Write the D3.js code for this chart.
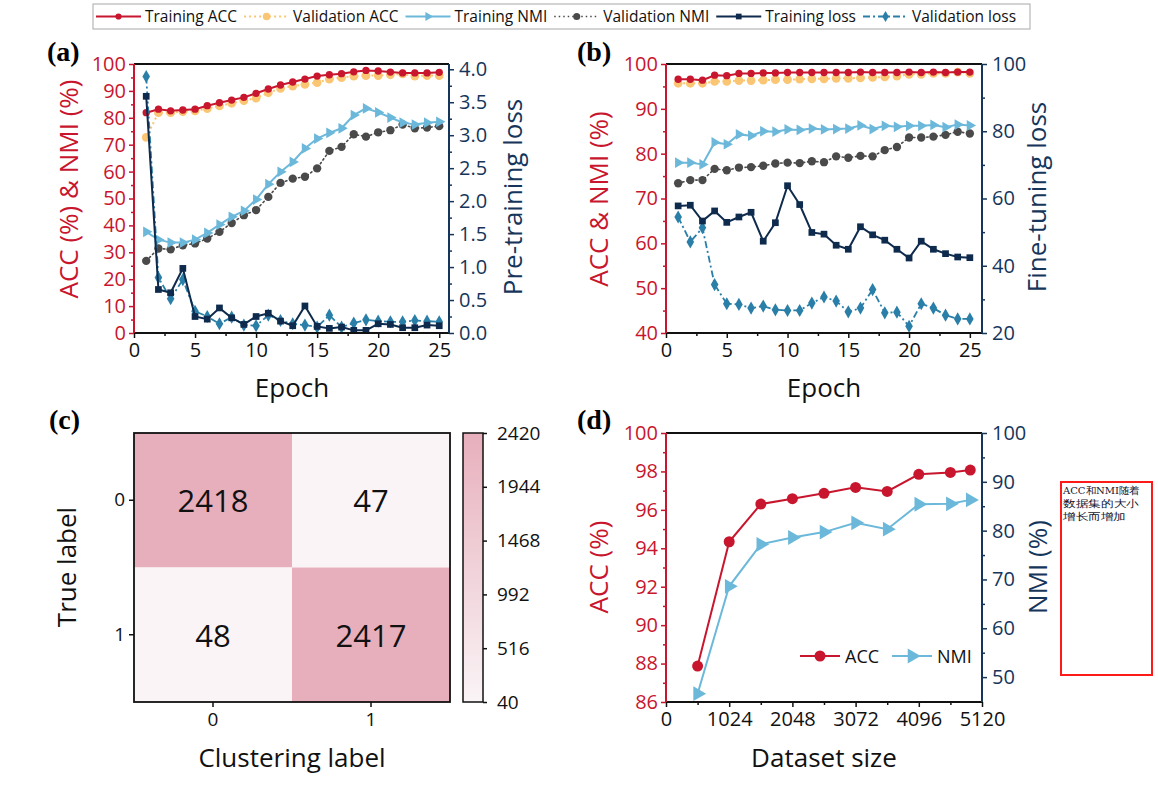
<!DOCTYPE html>
<html>
<head>
<meta charset="utf-8">
<script src="https://cdn.jsdelivr.net/npm/d3@7/dist/d3.min.js"></script>
<style>
  body { margin: 0; background: #fff; }
  svg { display: block; }
</style>
</head>
<body>
<div id="root"></div>
<script>
// ---- data ----
const epochs = d3.range(1, 26)

// (a) pre-training
const preAccTrain = [81.9, 83.2, 82.6, 82.9, 83.2, 84.5, 85.6, 86.6, 87.6, 89.1, 90.7, 92.2, 93.3, 94.4, 95.5, 96.0, 96.4, 97.1, 97.6, 97.4, 97.0, 96.7, 96.7, 96.7, 96.9]
const preAccVal = [72.7, 81.9, 81.9, 82.3, 82.6, 83.4, 84.4, 85.4, 86.4, 87.3, 89.3, 90.9, 91.8, 92.4, 93.1, 94.4, 94.9, 95.5, 95.7, 95.7, 96.0, 96.3, 95.5, 95.7, 95.7]
const preNmiTrain = [37.6, 34.7, 33.6, 33.6, 34.7, 37.2, 40.3, 43.2, 45.4, 49.6, 55.3, 59.9, 63.6, 68.6, 72.3, 74.4, 76.1, 81.0, 83.5, 82.0, 80.1, 78.2, 77.5, 78.2, 78.5]
const preNmiVal = [26.8, 31.4, 31.1, 32.6, 33.3, 35.1, 37.6, 40.9, 43.8, 45.7, 50.6, 55.8, 57.4, 58.1, 61.2, 67.7, 69.2, 73.9, 73.0, 74.6, 75.4, 77.5, 76.1, 76.4, 76.9]
const preLossTrain = [3.59, 0.66, 0.61, 0.98, 0.25, 0.21, 0.38, 0.23, 0.13, 0.25, 0.30, 0.18, 0.11, 0.41, 0.10, 0.07, 0.09, 0.04, 0.04, 0.14, 0.13, 0.08, 0.08, 0.12, 0.11]
const preLossVal = [3.89, 0.84, 0.52, 0.81, 0.33, 0.25, 0.14, 0.24, 0.12, 0.11, 0.27, 0.19, 0.14, 0.12, 0.09, 0.27, 0.09, 0.15, 0.20, 0.18, 0.17, 0.17, 0.19, 0.18, 0.17]

// (b) fine-tuning
const ftAccTrain = [96.6, 96.6, 96.4, 97.5, 97.4, 97.9, 97.9, 98.0, 98.0, 98.1, 98.1, 98.1, 98.1, 98.1, 98.1, 98.2, 98.1, 98.1, 98.1, 98.2, 98.1, 98.2, 98.1, 98.2, 98.2]
const ftAccVal = [95.7, 95.7, 95.7, 96.1, 96.1, 96.3, 96.3, 96.4, 96.5, 96.5, 96.6, 96.7, 96.7, 96.8, 96.8, 96.9, 97.0, 97.1, 97.3, 97.7, 97.7, 97.9, 97.9, 98.2, 97.9]
const ftNmiTrain = [78.0, 78.0, 77.6, 82.5, 82.1, 84.3, 84.0, 85.0, 84.9, 85.4, 85.3, 85.6, 85.4, 85.5, 85.6, 86.3, 85.5, 86.2, 86.0, 86.2, 86.2, 86.4, 85.9, 86.5, 86.3]
const ftNmiVal = [73.4, 74.1, 74.1, 76.6, 76.3, 76.9, 77.0, 77.3, 77.8, 78.0, 77.9, 78.3, 78.1, 79.4, 79.1, 79.5, 79.4, 80.8, 81.5, 83.6, 83.6, 83.8, 84.2, 84.9, 84.5]
const ftLossTrain = [57.8, 58.0, 53.3, 56.3, 52.9, 54.5, 55.9, 47.3, 52.8, 63.8, 58.2, 49.9, 49.4, 46.1, 44.9, 51.6, 49.2, 47.6, 44.9, 42.3, 47.3, 44.9, 43.6, 42.6, 42.4]
const ftLossVal = [54.5, 47.1, 51.3, 34.4, 28.7, 28.5, 27.4, 28.0, 26.9, 26.7, 26.7, 28.9, 30.7, 29.5, 26.3, 27.4, 32.9, 26.0, 26.2, 22.0, 28.7, 27.4, 25.3, 24.2, 24.2]

// (c) confusion matrix
const cmLabels = ['0', '1']
const cmValues = [[2418, 47], [48, 2417]]
const cbTicks = [40, 516, 992, 1468, 1944, 2420]

// (d) dataset size
const dataSizes = [512, 1024, 1536, 2048, 2560, 3072, 3584, 4096, 4608, 4930]
const sizeAcc = [87.87, 94.34, 96.30, 96.58, 96.86, 97.17, 96.96, 97.85, 97.95, 98.07]
const sizeNmi = [46.6, 68.6, 77.2, 78.6, 79.7, 81.6, 80.3, 85.4, 85.5, 86.3]

const legendNames = ['Training ACC', 'Validation ACC', 'Training NMI', 'Validation NMI', 'Training loss', 'Validation loss']
const note = ['ACC和NMI随着', '数据集的大小', '增长而增加']

// ---- style ----
const FONT = '"Open Sans", sans-serif'
const RED = '#c8162e'
const NAVY = '#15365a'
const fmtInt = d3.format('d')

const styles = [
  { color: RED, sym: 'circle', size: 42, width: 2 },
  { color: '#fbc673', sym: 'circle', size: 60, width: 2, dash: '2,3' },
  { color: '#6cb8da', sym: 'triangle', size: 50, width: 2 },
  { color: '#4a4a4a', sym: 'circle', size: 55, width: 1.6, dash: '1.5,3' },
  { color: '#0e2a4c', sym: 'square', size: 45, width: 2 },
  { color: '#2a7fa8', sym: 'diamond', size: 50, width: 1.8, dash: '7,3,2,3' }
]
const symTypes = { circle: d3.symbolCircle, square: d3.symbolSquare, triangle: d3.symbolTriangle, diamond: d3.symbolDiamond }

const svg = d3.select('#root').append('svg')
svg.attr('width', 1158).attr('height', 788)

function axis(gen, tx, ty, color, size) {
  const g = svg.append('g').attr('transform', `translate(${tx},${ty})`).call(gen)
  g.select('.domain').remove()
  g.selectAll('line').attr('stroke', color).attr('stroke-width', 1.5)
  g.selectAll('text').attr('fill', color).attr('font-family', FONT).attr('font-size', size)
  return g
}

function marker(sel, st, scale) {
  const k = scale || 1
  sel.attr('d', d3.symbol(symTypes[st.sym], st.size * k * k)())
    .attr('fill', st.color)
}

function series(xs, ys, x, y, st, k) {
  const line = d3.line().x((d, i) => x(xs[i])).y(d => y(d))
  svg.append('path').datum(ys)
    .attr('d', line)
    .attr('fill', 'none')
    .attr('stroke', st.color)
    .attr('stroke-width', st.width)
    .attr('stroke-dasharray', st.dash || null)
    .attr('stroke-linecap', st.dash && st.dash.startsWith('1.5') ? 'round' : 'butt')
  svg.append('g').selectAll('path').data(ys).join('path')
    .call(marker, st, k)
    .attr('transform', (d, i) => `translate(${x(xs[i])},${y(d)}) rotate(${st.sym === 'triangle' ? 90 : 0})`)
}

function label(text, x, y, color, rotate) {
  svg.append('text')
    .attr('transform', `translate(${x},${y}) rotate(${rotate ? -90 : 0})`)
    .attr('text-anchor', 'middle')
    .attr('dominant-baseline', 'central')
    .attr('font-family', FONT)
    .attr('font-size', 26)
    .attr('fill', color)
    .text(text)
}

function panelTag(text, x, y) {
  svg.append('text').attr('x', x).attr('y', y)
    .attr('font-family', '"Liberation Serif", "Times New Roman", serif')
    .attr('font-weight', 'bold').attr('font-size', 28)
    .text(text)
}

function frame(p, leftColor, rightColor) {
  const f = svg.append('g').attr('stroke-width', 2)
  f.append('line').attr('x1', p.x0).attr('x2', p.x1).attr('y1', p.y0).attr('y2', p.y0).attr('stroke', '#111')
  f.append('line').attr('x1', p.x0).attr('x2', p.x1).attr('y1', p.y1).attr('y2', p.y1).attr('stroke', '#111')
  f.append('line').attr('x1', p.x0).attr('x2', p.x0).attr('y1', p.y0).attr('y2', p.y1).attr('stroke', leftColor)
  f.append('line').attr('x1', p.x1).attr('x2', p.x1).attr('y1', p.y0).attr('y2', p.y1).attr('stroke', rightColor)
}

function dualAxes(p, x, yL, yR, c) {
  axis(d3.axisBottom(x).tickValues(c.xMajor).tickSize(5).tickPadding(5).tickFormat(c.xFormat || null), 0, p.y1, '#111', 20)
  axis(d3.axisBottom(x).tickValues(c.xMinor).tickSize(3).tickFormat(''), 0, p.y1, '#111', 20)
  axis(d3.axisLeft(yL).tickValues(c.lMajor).tickSize(5).tickPadding(3), p.x0, 0, RED, 20)
  axis(d3.axisLeft(yL).tickValues(c.lMinor).tickSize(3).tickFormat(''), p.x0, 0, RED, 20)
  axis(d3.axisRight(yR).tickValues(c.rMajor).tickSize(5).tickPadding(5).tickFormat(c.rFormat || null), p.x1, 0, NAVY, 20)
  axis(d3.axisRight(yR).tickValues(c.rMinor).tickSize(3).tickFormat(''), p.x1, 0, NAVY, 20)
}

// ---- top legend ----
svg.append('rect').attr('x', 93).attr('y', 4).attr('width', 937).attr('height', 25)
  .attr('fill', 'none').attr('stroke', '#a8a8a8').attr('stroke-width', 1)
let lx = 96
legendNames.forEach((name, i) => {
  const st = styles[i]
  svg.append('line').attr('x1', lx).attr('x2', lx + 45).attr('y1', 16.5).attr('y2', 16.5)
    .attr('stroke', st.color).attr('stroke-width', st.width).attr('stroke-dasharray', st.dash || null)
  svg.append('path').call(marker, st, 0.85)
    .attr('transform', `translate(${lx + 22.5},16.5) rotate(${st.sym === 'triangle' ? 90 : 0})`)
  const t = svg.append('text').attr('x', lx + 49).attr('y', 22)
    .attr('font-family', FONT).attr('font-size', 15.5).attr('fill', '#111').text(name)
  lx += 49 + t.node().getComputedTextLength() + 7
})

// ---- (a) ----
{
  const p = { x0: 134, x1: 449, y0: 64, y1: 333 }
  const x = d3.scaleLinear().domain([0, 25.8]).range([p.x0, p.x1])
  const yL = d3.scaleLinear().domain([0, 100]).range([p.y1, p.y0])
  const yR = d3.scaleLinear().domain([0, 4.08]).range([p.y1, p.y0])
  dualAxes(p, x, yL, yR, {
    xMajor: [0, 5, 10, 15, 20, 25], xMinor: [2.5, 7.5, 12.5, 17.5, 22.5],
    lMajor: d3.range(0, 101, 10), lMinor: d3.range(5, 100, 10),
    rMajor: d3.range(0, 4.01, 0.5), rMinor: d3.range(0.25, 4, 0.5), rFormat: d3.format('.1f')
  })
  series(epochs, preNmiVal, x, yL, styles[3])
  series(epochs, preNmiTrain, x, yL, styles[2])
  series(epochs, preAccVal, x, yL, styles[1])
  series(epochs, preAccTrain, x, yL, styles[0])
  series(epochs, preLossVal, x, yR, styles[5])
  series(epochs, preLossTrain, x, yR, styles[4])
  frame(p, RED, NAVY)
  label('ACC (%) & NMI (%)', 68, 189, RED, true)
  label('Pre-training loss', 512, 197, NAVY, true)
  label('Epoch', 292, 387, '#111')
  panelTag('(a)', 47, 61)
}

// ---- (b) ----
{
  const p = { x0: 666, x1: 982, y0: 64, y1: 333 }
  const x = d3.scaleLinear().domain([0, 26]).range([p.x0, p.x1])
  const yL = d3.scaleLinear().domain([40, 100]).range([p.y1, p.y0])
  const yR = d3.scaleLinear().domain([20, 100]).range([p.y1, p.y0])
  dualAxes(p, x, yL, yR, {
    xMajor: [0, 5, 10, 15, 20, 25], xMinor: [2.5, 7.5, 12.5, 17.5, 22.5],
    lMajor: d3.range(40, 101, 10), lMinor: d3.range(45, 100, 10),
    rMajor: d3.range(20, 101, 20), rMinor: d3.range(30, 100, 20)
  })
  series(epochs, ftNmiVal, x, yL, styles[3])
  series(epochs, ftNmiTrain, x, yL, styles[2])
  series(epochs, ftAccVal, x, yL, styles[1])
  series(epochs, ftAccTrain, x, yL, styles[0])
  series(epochs, ftLossVal, x, yR, styles[5])
  series(epochs, ftLossTrain, x, yR, styles[4])
  frame(p, RED, NAVY)
  label('ACC & NMI (%)', 598, 199, RED, true)
  label('Fine-tuning loss', 1036, 197, NAVY, true)
  label('Epoch', 824, 387, '#111')
  panelTag('(b)', 577, 61)
}

// ---- (c) ----
{
  const p = { x0: 134, x1: 450, y0: 433, y1: 702 }
  const x = d3.scaleBand().domain(cmLabels).range([p.x0, p.x1])
  const y = d3.scaleBand().domain(cmLabels).range([p.y0, p.y1])
  const color = d3.scaleLinear().domain([40, 2420]).range(['#faf4f6', '#e7afbc'])
  const cells = cmValues.flatMap((row, i) => row.map((v, j) => ({ r: cmLabels[i], c: cmLabels[j], v })))
  svg.append('g').selectAll('rect').data(cells).join('rect')
    .attr('x', d => x(d.c)).attr('y', d => y(d.r))
    .attr('width', x.bandwidth()).attr('height', y.bandwidth())
    .attr('fill', d => color(d.v))
  svg.append('g').selectAll('text').data(cells).join('text')
    .attr('x', d => x(d.c) + x.bandwidth() / 2).attr('y', d => y(d.r) + y.bandwidth() / 2)
    .attr('text-anchor', 'middle').attr('dominant-baseline', 'central')
    .attr('font-family', FONT).attr('font-size', 31).attr('fill', '#111')
    .text(d => d.v)
  svg.append('rect').attr('x', p.x0).attr('y', p.y0).attr('width', p.x1 - p.x0).attr('height', p.y1 - p.y0)
    .attr('fill', 'none').attr('stroke', '#111').attr('stroke-width', 1.8)
  axis(d3.axisBottom(x).tickSize(5).tickPadding(6), 0, p.y1, '#111', 19)
  axis(d3.axisLeft(y).tickSize(5).tickPadding(4), p.x0, 0, '#111', 19)

  // colorbar
  const cb = { x0: 463, x1: 483 }
  const cy = d3.scaleLinear().domain([40, 2420]).range([p.y1, p.y0])
  const grad = svg.append('defs').append('linearGradient').attr('id', 'cbgrad')
    .attr('x1', 0).attr('x2', 0).attr('y1', 1).attr('y2', 0)
  grad.selectAll('stop').data(cbTicks).join('stop')
    .attr('offset', d => (d - 40) / 2380)
    .attr('stop-color', d => color(d))
  svg.append('rect').attr('x', cb.x0).attr('y', p.y0).attr('width', cb.x1 - cb.x0).attr('height', p.y1 - p.y0)
    .attr('fill', 'url(#cbgrad)').attr('stroke', '#111').attr('stroke-width', 1.5)
  axis(d3.axisRight(cy).tickValues(cbTicks).tickSize(4).tickPadding(10).tickFormat(fmtInt), cb.x1, 0, '#111', 19)

  label('True label', 66, 567, '#111', true)
  label('Clustering label', 292, 757, '#111')
  panelTag('(c)', 49, 429)
}

// ---- (d) ----
{
  const p = { x0: 666, x1: 982, y0: 433, y1: 702 }
  const x = d3.scaleLinear().domain([0, 5120]).range([p.x0, p.x1])
  const yL = d3.scaleLinear().domain([86, 100]).range([p.y1, p.y0])
  const yR = d3.scaleLinear().domain([44.9, 100]).range([p.y1, p.y0])
  dualAxes(p, x, yL, yR, {
    xMajor: d3.range(0, 5121, 1024), xMinor: d3.range(512, 5120, 1024), xFormat: fmtInt,
    lMajor: d3.range(86, 101, 2), lMinor: d3.range(87, 100, 2),
    rMajor: d3.range(50, 101, 10), rMinor: d3.range(55, 100, 10)
  })
  const accSt = { color: RED, sym: 'circle', size: 95, width: 2 }
  const nmiSt = { color: '#6cb8da', sym: 'triangle', size: 95, width: 2 }
  series(dataSizes, sizeNmi, x, yR, nmiSt)
  series(dataSizes, sizeAcc, x, yL, accSt)
  frame(p, RED, NAVY)
  label('ACC (%)', 598, 567, RED, true)
  label('NMI (%)', 1037, 567, NAVY, true)
  label('Dataset size', 824, 757, '#111')
  panelTag('(d)', 577, 429)

  // inner legend
  const items = [['ACC', accSt, 800], ['NMI', nmiSt, 892]]
  items.forEach(([name, st, x0]) => {
    svg.append('line').attr('x1', x0).attr('x2', x0 + 40).attr('y1', 656).attr('y2', 656)
      .attr('stroke', st.color).attr('stroke-width', 2)
    svg.append('path').call(marker, st)
      .attr('transform', `translate(${x0 + 20},656) rotate(${st.sym === 'triangle' ? 90 : 0})`)
    svg.append('text').attr('x', x0 + 45).attr('y', 656).attr('dominant-baseline', 'central')
      .attr('font-family', FONT).attr('font-size', 18).attr('fill', '#111').text(name)
  })
}

// ---- note box ----
svg.append('rect').attr('x', 1061).attr('y', 482).attr('width', 91).attr('height', 193)
  .attr('fill', 'none').attr('stroke', '#ff1a1a').attr('stroke-width', 2)
const widths = [77, 76, 63]
svg.append('g').selectAll('text').data(note).join('text')
  .attr('x', 1063).attr('y', (d, i) => 494 + i * 13)
  .attr('font-family', '"DejaVu Serif", serif').attr('font-size', 9.5)
  .attr('fill', '#14142e')
  .attr('textLength', (d, i) => widths[i]).attr('lengthAdjust', 'spacingAndGlyphs')
  .text(d => d)
</script>
</body>
</html>
